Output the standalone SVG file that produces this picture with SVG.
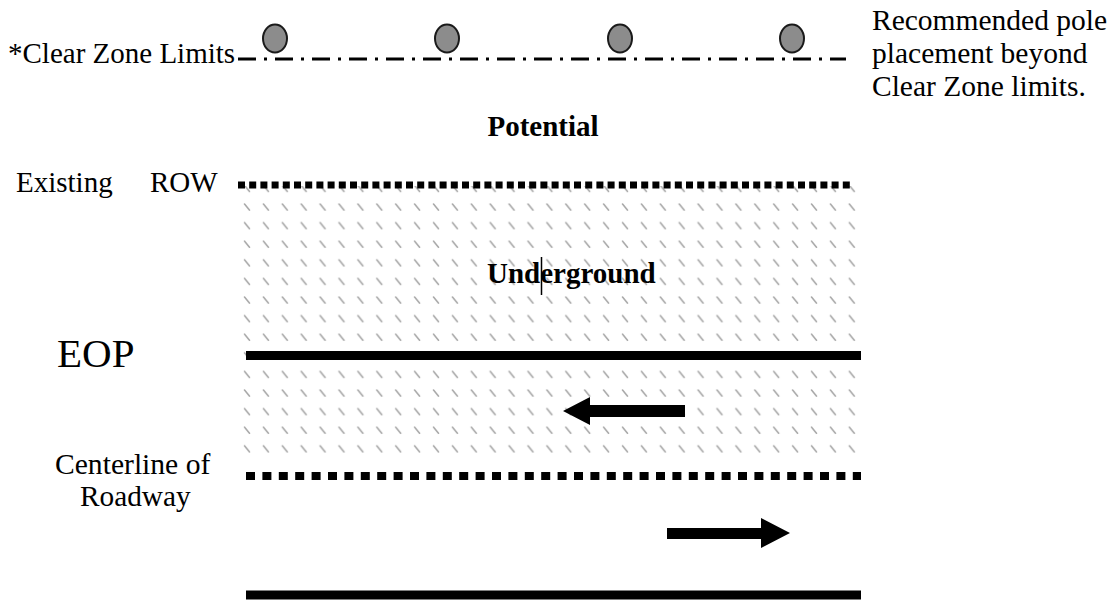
<svg xmlns="http://www.w3.org/2000/svg" width="1117" height="601" viewBox="0 0 1117 601">
  <defs>
    <style>
      text { font-family: 'Liberation Serif', 'DejaVu Serif', serif; fill: #000; }
      .b { font-weight: bold; }
      .pole { fill: #8c8c8c; stroke: #1a1a1a; stroke-width: 2; }
      .solid { stroke: #000; stroke-width: 9; fill: none; }
    </style>
    <pattern id="hatch" patternUnits="userSpaceOnUse" x="243" y="184.4" width="18.9" height="18.6">
      <line x1="1.5" y1="1" x2="6.5" y2="7" stroke="#a6a6a6" stroke-width="1.6" stroke-linecap="round"/>
    </pattern>
  </defs>
  <rect width="1117" height="601" fill="#fff"/>

  <g id="zone">
    <rect x="243" y="186" width="618" height="272" fill="url(#hatch)"/>
  </g>

  <g id="connectors">
    <line x1="238" y1="59" x2="846" y2="59" stroke="#000" stroke-width="3" stroke-dasharray="18 8 3 8"/>
    <line x1="238" y1="185" x2="853" y2="185" stroke="#000" stroke-width="7" stroke-dasharray="7 4.2"/>
    <line class="solid" x1="246" y1="355.5" x2="861" y2="355.5"/>
    <line x1="246" y1="476" x2="861" y2="476" stroke="#000" stroke-width="8" stroke-dasharray="9 7.4"/>
    <line class="solid" x1="246" y1="595" x2="861" y2="595"/>
    <polygon points="563,411 590,397 590,405 685,405 685,417 590,417 590,425" fill="#000"/>
    <polygon points="790,533 761,518 761,528 667,528 667,539 761,539 761,548" fill="#000"/>
  </g>

  <g id="poles">
    <ellipse class="pole" cx="275" cy="38.5" rx="12" ry="14"/>
    <ellipse class="pole" cx="447" cy="38.5" rx="12" ry="14"/>
    <ellipse class="pole" cx="620" cy="38.5" rx="12" ry="14"/>
    <ellipse class="pole" cx="792" cy="38.5" rx="12" ry="14"/>
  </g>

  <g id="labels" font-family="Liberation Serif, serif">
    <text x="8" y="63" font-size="29">*Clear Zone Limits</text>
    <text x="872" y="30" font-size="29.5">Recommended pole</text>
    <text x="872" y="63" font-size="29.5">placement beyond</text>
    <text x="872" y="96" font-size="29.5">Clear Zone limits.</text>
    <text class="b" x="543" y="136" font-size="29" text-anchor="middle">Potential</text>
    <text x="16" y="192" font-size="29">Existing</text>
    <text x="150" y="192" font-size="29">ROW</text>
    <text class="b" x="487" y="283" font-size="29">Underground</text>
    <line x1="541.5" y1="257" x2="541.5" y2="295" stroke="#000" stroke-width="1.5"/>
    <text x="57" y="367" font-size="41">EOP</text>
    <text x="55" y="474" font-size="29.6">Centerline of</text>
    <text x="80" y="506" font-size="29.3">Roadway</text>
  </g>
</svg>
